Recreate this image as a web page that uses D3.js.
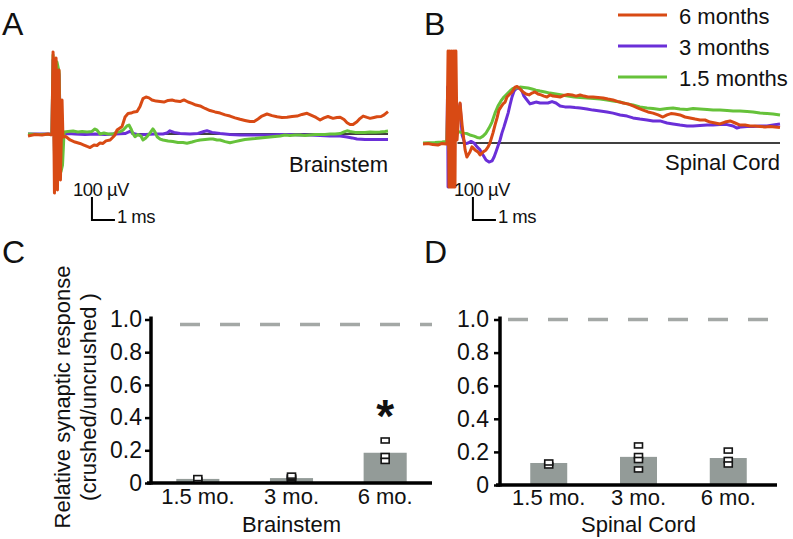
<!DOCTYPE html>
<html>
<head>
<meta charset="utf-8">
<script src="https://cdn.jsdelivr.net/npm/d3@7"></script>
<style>
  html, body { margin: 0; padding: 0; background: #fff; }
  svg { display: block; }
  text { font-family: "Liberation Sans", Arial, Helvetica, sans-serif; fill: #111; }
</style>
</head>
<body>
<script>
// ---------------- DATA ----------------
// Traces: [time (ms), response (µV)]
const brainstem6mo = [[0,-9],[0.30,-2],[0.61,-4],[0.87,0],[1.00,-4],[1.04,0],[1.09,357],[1.15,-257],[1.22,330],[1.28,-243],[1.35,278],[1.41,-200],[1.48,148],[1.52,-13],[1.65,-11],[1.83,-26],[2.04,-35],[2.26,-41],[2.43,-48],[2.57,-54],[2.70,-59],[2.87,-48],[3.00,-50],[3.13,-39],[3.26,-41],[3.39,-30],[3.57,-26],[3.70,-13],[3.78,-4],[3.87,17],[4.00,26],[4.09,33],[4.22,74],[4.35,89],[4.48,91],[4.61,96],[4.74,98],[4.87,120],[5.00,154],[5.13,161],[5.26,157],[5.39,148],[5.57,143],[5.74,141],[5.91,139],[6.09,146],[6.26,148],[6.43,143],[6.61,141],[6.78,148],[6.96,139],[7.13,133],[7.30,126],[7.48,122],[7.70,111],[7.91,102],[8.13,96],[8.35,91],[8.57,83],[8.78,78],[9.00,70],[9.22,64],[9.43,59],[9.65,54],[9.83,54],[10.00,65],[10.17,78],[10.39,87],[10.61,80],[10.83,75],[11.04,72],[11.26,73],[11.48,76],[11.70,78],[11.91,85],[12.13,90],[12.35,80],[12.52,72],[12.70,61],[12.87,70],[13.04,76],[13.26,68],[13.43,72],[13.57,73],[13.74,63],[13.87,49],[14.00,41],[14.13,41],[14.30,53],[14.43,67],[14.57,78],[14.74,72],[14.87,68],[15.04,72],[15.17,75],[15.35,76],[15.48,83],[15.65,97]];
const brainstem3mo = [[0,0],[1.00,0],[1.04,0],[1.09,322],[1.17,-200],[1.26,300],[1.35,257],[1.43,-70],[1.52,0],[1.74,2],[2.04,0],[2.48,-2],[2.91,0],[3.35,-2],[3.78,0],[4.22,2],[4.43,11],[4.65,0],[4.87,-4],[5.09,-2],[5.52,0],[5.87,0],[6.04,4],[6.17,14],[6.35,7],[6.61,2],[7.04,0],[7.39,2],[7.65,11],[7.78,14],[8.00,7],[8.35,2],[8.78,-2],[9.22,-4],[9.65,-4],[10.09,-4],[10.52,-4],[10.96,-2],[11.39,-2],[11.83,-4],[12.26,-4],[12.70,-7],[13.13,-9],[13.57,-9],[13.87,-13],[14.09,-17],[14.30,-22],[14.65,-24],[15.09,-24],[15.65,-24]];
const brainstem15mo = [[0,0],[0.52,-2],[1.00,0],[1.04,0],[1.09,343],[1.17,-222],[1.26,313],[1.35,270],[1.43,-165],[1.50,-135],[1.57,9],[1.74,11],[1.96,13],[2.17,9],[2.35,11],[2.57,9],[2.78,11],[2.91,22],[3.00,17],[3.13,0],[3.30,4],[3.48,0],[3.70,0],[3.87,9],[4.00,10],[4.13,17],[4.22,26],[4.30,35],[4.39,39],[4.48,22],[4.57,0],[4.65,-12],[4.78,-2],[4.91,-9],[5.00,-26],[5.09,-20],[5.17,-12],[5.30,4],[5.43,22],[5.52,9],[5.61,-12],[5.74,-22],[5.87,-26],[6.09,-30],[6.30,-33],[6.52,-37],[6.74,-37],[6.91,-40],[7.13,-35],[7.30,-30],[7.48,-26],[7.70,-24],[7.91,-22],[8.04,-22],[8.22,-26],[8.35,-26],[8.57,-33],[8.78,-38],[9.00,-33],[9.22,-28],[9.43,-24],[9.65,-22],[9.87,-20],[10.09,-17],[10.30,-15],[10.52,-13],[10.74,-11],[10.96,-9],[11.17,-4],[11.39,-7],[11.61,-4],[11.83,-4],[12.04,-7],[12.26,-4],[12.48,-2],[12.70,-2],[12.91,-2],[13.13,0],[13.35,0],[13.57,2],[13.74,9],[13.87,14],[14.00,11],[14.22,7],[14.43,7],[14.65,7],[14.87,9],[15.09,8],[15.30,9],[15.52,11],[15.65,13]];

const spinal6mo = [[0,-4],[0.22,-2],[0.43,-7],[0.65,-9],[0.83,-2],[1.00,-4],[1.04,-4],[1.09,400],[1.13,-191],[1.17,400],[1.22,-191],[1.26,400],[1.30,-191],[1.35,400],[1.39,-191],[1.43,400],[1.48,13],[1.57,143],[1.61,174],[1.70,78],[1.83,-30],[1.91,-61],[2.04,-39],[2.13,-17],[2.26,-30],[2.39,-39],[2.48,-52],[2.61,-39],[2.74,-30],[2.83,-17],[2.91,0],[3.04,43],[3.13,78],[3.22,109],[3.30,143],[3.39,157],[3.48,170],[3.57,178],[3.65,200],[3.78,213],[3.87,222],[4.00,243],[4.09,246],[4.22,235],[4.35,222],[4.48,213],[4.61,209],[4.74,217],[4.87,222],[5.00,213],[5.13,209],[5.26,204],[5.39,200],[5.52,209],[5.65,204],[5.83,202],[5.96,200],[6.13,207],[6.30,211],[6.48,209],[6.65,204],[6.83,209],[7.00,204],[7.17,200],[7.39,200],[7.61,198],[7.83,196],[8.04,191],[8.26,187],[8.48,180],[8.70,174],[8.91,170],[9.13,161],[9.35,152],[9.57,143],[9.78,135],[10.00,130],[10.22,122],[10.43,113],[10.61,122],[10.78,128],[10.96,126],[11.17,122],[11.39,113],[11.61,109],[11.83,104],[12.04,100],[12.26,100],[12.48,91],[12.70,87],[12.91,83],[13.13,91],[13.35,96],[13.57,87],[13.78,78],[14.00,78],[14.22,74],[14.43,74],[14.65,72],[14.87,70],[15.09,72],[15.30,70],[15.52,67]];
const spinal3mo = [[0,-2],[0.74,-2],[1.00,0],[1.04,0],[1.07,243],[1.09,-191],[1.13,0],[1.39,13],[1.57,143],[1.61,170],[1.70,35],[1.83,-4],[1.96,0],[2.09,7],[2.22,0],[2.35,-17],[2.48,-30],[2.61,-52],[2.74,-74],[2.87,-83],[3.00,-78],[3.09,-61],[3.17,-39],[3.26,-13],[3.35,13],[3.43,43],[3.52,70],[3.61,100],[3.70,130],[3.78,165],[3.87,200],[3.96,226],[4.04,235],[4.13,239],[4.22,237],[4.30,226],[4.39,204],[4.52,187],[4.65,170],[4.78,174],[4.91,178],[5.09,174],[5.26,174],[5.43,174],[5.61,180],[5.78,174],[5.96,161],[6.17,157],[6.39,157],[6.61,154],[6.83,152],[7.13,148],[7.39,143],[7.70,139],[8.00,135],[8.26,130],[8.57,122],[8.87,117],[9.13,109],[9.43,104],[9.74,100],[10.00,96],[10.30,96],[10.61,87],[10.87,83],[11.17,78],[11.48,74],[11.74,74],[12.04,76],[12.35,78],[12.61,78],[12.91,80],[13.22,80],[13.48,74],[13.65,65],[13.83,70],[14.09,72],[14.35,72],[14.65,74],[14.96,74],[15.22,78],[15.52,83]];
const spinal15mo = [[0,0],[0.52,2],[0.83,4],[1.00,7],[1.04,9],[1.09,230],[1.13,-30],[1.22,209],[1.30,13],[1.43,100],[1.52,48],[1.61,48],[1.78,43],[1.91,41],[2.04,35],[2.22,30],[2.35,24],[2.48,22],[2.61,30],[2.74,43],[2.87,65],[3.00,91],[3.13,130],[3.26,161],[3.39,183],[3.52,200],[3.65,213],[3.78,226],[3.91,237],[4.04,239],[4.22,243],[4.39,241],[4.57,239],[4.74,235],[4.91,230],[5.09,226],[5.30,222],[5.52,217],[5.78,213],[6.04,209],[6.30,204],[6.57,200],[6.83,198],[7.13,196],[7.43,193],[7.70,191],[8.00,187],[8.26,183],[8.57,178],[8.87,170],[9.13,165],[9.43,157],[9.74,152],[10.00,150],[10.30,146],[10.61,150],[10.87,152],[11.17,148],[11.48,146],[11.74,150],[12.04,148],[12.35,146],[12.61,143],[12.91,143],[13.22,141],[13.48,139],[13.78,139],[14.09,137],[14.35,135],[14.65,130],[14.96,128],[15.22,126],[15.52,122]];

const seriesLabels = ["6 months", "3 months", "1.5 months"];
const seriesColors = ["#d84a14", "#6a2fd8", "#66c23a"];

// Bar panels
const categories = ["1.5 mo.", "3 mo.", "6 mo."];
const brainstemMeans = [0.025, 0.03, 0.185];
const spinalMeans = [0.133, 0.17, 0.163];
const brainstemPoints = [[0.015, 0.03], [0.02, 0.03, 0.035, 0.045], [0.26, 0.165, 0.135]];
const spinalPoints = [[0.118, 0.136], [0.239, 0.175, 0.151, 0.094], [0.208, 0.151, 0.124]];
const brainstemSig = ["", "", "*"];
const yTicks = [0, 0.2, 0.4, 0.6, 0.8, 1.0];
const yTickLabels = ["0", "0.2", "0.4", "0.6", "0.8", "1.0"];
const refLevels = [0.97, 1.0];   // dashed "uncrushed" reference, panels C and D

// ---------------- DRAW ----------------
const W = 793, H = 539;
const svg = d3.select("body").append("svg").attr("width", W).attr("height", H);
svg.append("rect").attr("width", W).attr("height", H).attr("fill", "#fff");

const FONT = '"Liberation Sans", Arial, Helvetica, sans-serif';

function panelLetter(x, y, s) {
  svg.append("text").attr("x", x).attr("y", y).attr("font-size", 32).text(s);
}
panelLetter(2, 35, "A");
panelLetter(424, 35, "B");
panelLetter(2, 263, "C");
panelLetter(424, 263, "D");

// ---- Trace panels ----
function tracePanel(opts) {
  const x = d3.scaleLinear().domain([0, opts.tMax]).range([opts.x0, opts.x1]);
  const y = d3.scaleLinear().domain([0, 100]).range([opts.y0, opts.y0 - 23]);
  const g = svg.append("g");
  // baseline
  g.append("line")
    .attr("x1", x(opts.baseStart)).attr("x2", x(opts.tMax))
    .attr("y1", y(0)).attr("y2", y(0))
    .attr("stroke", "#000").attr("stroke-width", 1.4);
  const line = d3.line().x(d => x(d[0])).y(d => y(d[1]));
  opts.series.forEach(s => {
    g.append("path").datum(s.data)
      .attr("d", line)
      .attr("fill", "none")
      .attr("stroke", s.color)
      .attr("stroke-width", opts.sw)
      .attr("stroke-linejoin", "round");
  });
  // label
  g.append("text").attr("x", x(opts.tMax)).attr("y", opts.labelY)
    .attr("text-anchor", "end").attr("font-size", 22).text(opts.label);
  // scale bar (100 µV, 1 ms)
  const cx = x(opts.barT), cy = y(opts.barV);
  g.append("path")
    .attr("d", `M${cx},${y(opts.barV + 100)}L${cx},${cy}L${x(opts.barT + 1)},${cy}`)
    .attr("fill", "none").attr("stroke", "#000").attr("stroke-width", 2);
  g.append("text").attr("x", cx - 19).attr("y", y(opts.barV + 100) - 1)
    .attr("font-size", 18.5).attr("letter-spacing", -0.5).text("100\u00a0µV");
  g.append("text").attr("x", x(opts.barT + 1) + 2).attr("y", cy + 3)
    .attr("font-size", 18.5).attr("letter-spacing", -0.5).text("1\u00a0ms");
}

tracePanel({
  x0: 28, x1: 388, tMax: 15.65, y0: 134, sw: 3, baseStart: 4.5,
  label: "Brainstem", labelY: 172, barT: 2.78, barV: -374,
  series: [
    { data: brainstem3mo, color: seriesColors[1] },
    { data: brainstem15mo, color: seriesColors[2] },
    { data: brainstem6mo, color: seriesColors[0] }
  ]
});
tracePanel({
  x0: 423, x1: 780, tMax: 15.52, y0: 143, sw: 3, baseStart: 1.5,
  label: "Spinal Cord", labelY: 170, barT: 2.17, barV: -335,
  series: [
    { data: spinal3mo, color: seriesColors[1] },
    { data: spinal15mo, color: seriesColors[2] },
    { data: spinal6mo, color: seriesColors[0] }
  ]
});

// legend
const legY = d3.scalePoint().domain(seriesLabels).range([15, 77]);
seriesLabels.forEach((lab, i) => {
  svg.append("line").attr("x1", 618).attr("x2", 667)
    .attr("y1", legY(lab)).attr("y2", legY(lab))
    .attr("stroke", seriesColors[i]).attr("stroke-width", 3);
  svg.append("text").attr("x", 679).attr("y", legY(lab) + 9)
    .attr("font-size", 22).text(lab);
});

// ---- Bar panels ----
function barPanel(opts) {
  const y = d3.scaleLinear().domain([0, 1]).range([opts.yZero, opts.yOne]);
  const x = d3.scaleBand().domain(categories).range([opts.xa, opts.xb])
    .paddingInner(opts.pi).paddingOuter(opts.po);
  const g = svg.append("g");

  // dashed reference
  g.append("line").attr("x1", opts.dashStart).attr("x2", opts.xb)
    .attr("y1", y(opts.ref)).attr("y2", y(opts.ref))
    .attr("stroke", "#a4a8a6").attr("stroke-width", 3.5)
    .attr("stroke-dasharray", "20,20");

  // bars
  g.selectAll("rect.bar").data(opts.means).join("rect")
    .attr("class", "bar")
    .attr("x", (d, i) => x(categories[i]))
    .attr("width", x.bandwidth())
    .attr("y", d => y(d))
    .attr("height", d => y(0) - y(d))
    .attr("fill", "#939b98");

  // points
  opts.points.forEach((arr, i) => {
    const cx = x(categories[i]) + x.bandwidth() / 2;
    g.selectAll(null).data(arr).join("rect")
      .attr("x", cx - 4).attr("width", 8)
      .attr("y", d => y(d) - 2.5).attr("height", 5)
      .attr("fill", "#fff").attr("stroke", "#151515").attr("stroke-width", 1.6);
  });

  // significance
  if (opts.sig) {
    opts.sig.forEach((s, i) => {
      if (!s) return;
      const cx = x(categories[i]) + x.bandwidth() / 2;
      g.append("text").attr("x", cx).attr("y", y(d3.max(opts.points[i])) - 8)
        .attr("text-anchor", "middle").attr("font-size", 46)
        .attr("font-weight", "bold").text(s);
    });
  }

  // y axis
  const yAxis = d3.axisLeft(y).tickValues(yTicks)
    .tickFormat((d, i) => yTickLabels[i]).tickSize(6).tickSizeOuter(0).tickPadding(opts.tp);
  const ya = g.append("g").attr("transform", `translate(${opts.xa},0)`).call(yAxis);
  ya.select(".domain").attr("stroke", "#000").attr("stroke-width", 3.5)
    .attr("d", `M0,${y(0) + 1.5}V${y(1) - 3}`);
  ya.selectAll(".tick line").attr("stroke", "#000").attr("stroke-width", 2.5);
  ya.selectAll(".tick text").attr("font-size", 23).attr("font-family", FONT).attr("fill", "#111");

  // x axis
  g.append("line").attr("x1", opts.xa - 4).attr("x2", opts.xb)
    .attr("y1", y(0)).attr("y2", y(0))
    .attr("stroke", "#000").attr("stroke-width", 3.5);
  const xAxis = d3.axisBottom(x).tickSize(0).tickSizeOuter(0).tickPadding(0);
  const xa = g.append("g").attr("transform", `translate(0,${y(0)})`).call(xAxis);
  xa.select(".domain").remove();
  xa.selectAll(".tick text").attr("font-size", 22).attr("font-family", FONT).attr("fill", "#111")
    .attr("dy", null).attr("y", opts.tickBase - y(0));

  // x title
  g.append("text").attr("x", x(categories[1]) + x.bandwidth() / 2).attr("y", 532)
    .attr("text-anchor", "middle").attr("font-size", 22).text(opts.title);
}

barPanel({
  xa: 151, xb: 432, yZero: 483, yOne: 319.5, pi: 0.54, po: 0.27, tp: 3, tickBase: 504,
  means: brainstemMeans, points: brainstemPoints, sig: brainstemSig,
  ref: refLevels[0], dashStart: 180, title: "Brainstem"
});
barPanel({
  xa: 500, xb: 777, yZero: 485, yOne: 319.5, pi: 0.588, po: 0.337, tp: 5, tickBase: 505,
  means: spinalMeans, points: spinalPoints, sig: null,
  ref: refLevels[1], dashStart: 508, title: "Spinal Cord"
});

// y-axis title (panel C)
const yt = svg.append("text").attr("transform", "translate(70,397) rotate(-90)")
  .attr("text-anchor", "middle").attr("font-size", 22);
yt.append("tspan").attr("x", 0).attr("dy", 0).text("Relative synaptic response");
yt.append("tspan").attr("x", 0).attr("dy", 26).text("(crushed/uncrushed )");
</script>
</body>
</html>
